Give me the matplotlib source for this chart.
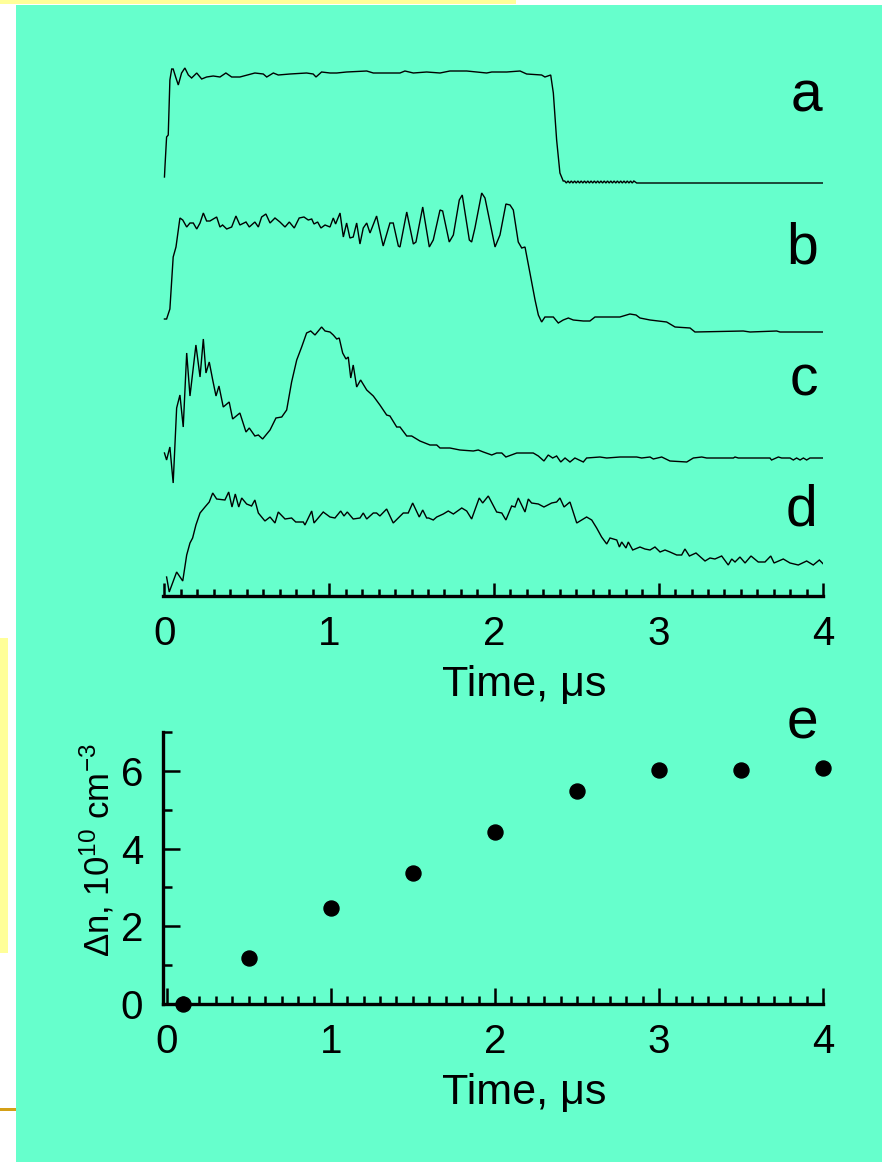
import numpy as np
import matplotlib
matplotlib.use("Agg")
import matplotlib.pyplot as plt
from matplotlib.patches import Rectangle
from matplotlib.ticker import MultipleLocator

plt.rcParams["font.family"] = ["Liberation Sans", "DejaVu Sans"]
plt.rcParams["mathtext.fontset"] = "custom"
plt.rcParams["mathtext.rm"] = "Liberation Sans"
plt.rcParams["mathtext.it"] = "Liberation Sans:italic"
plt.rcParams["mathtext.bf"] = "Liberation Sans:bold"

# ---------------- data ----------------
# oscillograms (time in us, signal in arbitrary units)
a_t = [0.0, 0.003, 0.013, 0.023, 0.033, 0.044, 0.053, 0.068, 0.084, 0.104, 0.124, 0.145,
       0.165, 0.196, 0.226, 0.256, 0.296, 0.337, 0.373, 0.408, 0.458, 0.549, 0.600, 0.621,
       0.661, 0.691, 0.762, 0.863, 0.903, 0.920, 0.954, 1.005, 1.046, 1.106, 1.228, 1.268,
       1.430, 1.460, 1.511, 1.592, 1.673, 1.733, 1.835, 1.896, 1.956, 1.987, 2.078, 2.159,
       2.199, 2.290, 2.310, 2.345, 2.361, 2.381, 2.401, 2.421,
       2.43, 2.44, 2.45, 2.46, 2.47, 2.48, 2.49, 2.50, 2.51, 2.52, 2.53, 2.54, 2.55, 2.56,
       2.57, 2.58, 2.59, 2.60, 2.61, 2.62, 2.63, 2.64, 2.65, 2.66, 2.67, 2.68, 2.69, 2.70,
       2.71, 2.72, 2.73, 2.74, 2.75, 2.76, 2.77, 2.78, 2.79, 2.80, 2.81, 2.82, 2.83, 2.84,
       2.85, 2.867, 4.0]
a_v = [6, 16, 46, 48, 103, 114, 114, 106, 98, 110, 115, 108,
       105, 110, 104, 106, 107, 106, 110, 106, 106, 110, 109, 106,
       110, 108, 109, 110, 109, 106, 111, 110, 110, 111, 112, 110,
       110, 112, 110, 111, 110, 112, 112, 111, 110, 111, 111, 112,
       109, 108, 106, 108, 90, 43, 10, 2,
       2, 0, 2, 0, 2, 0, 2, 0, 2, 0, 2, 0, 2, 0,
       2, 0, 2, 0, 2, 0, 2, 0, 2, 0, 2, 0, 2, 0,
       2, 0, 2, 0, 2, 0, 2, 0, 2, 0, 2, 0, 2, 0,
       2, 0, 0]

b_t = [0.0, 0.013, 0.033, 0.053, 0.070, 0.094, 0.111, 0.135, 0.155, 0.175, 0.196, 0.216,
       0.236, 0.256, 0.276, 0.317, 0.337, 0.353, 0.378, 0.408, 0.434, 0.458, 0.495, 0.515,
       0.549, 0.570, 0.590, 0.616, 0.641, 0.671, 0.701, 0.732, 0.758, 0.788, 0.818, 0.847,
       0.873, 0.894, 0.908, 0.930, 0.950, 0.975, 1.005, 1.025, 1.039, 1.066, 1.086, 1.106,
       1.126, 1.146, 1.167, 1.187, 1.207, 1.228, 1.248, 1.288, 1.328, 1.369, 1.389, 1.420,
       1.430, 1.471, 1.511, 1.527, 1.568, 1.608, 1.632, 1.673, 1.689, 1.729, 1.754, 1.790,
       1.808, 1.851, 1.865, 1.885, 1.926, 1.946, 2.007, 2.037, 2.073, 2.098, 2.118, 2.148,
       2.169, 2.189, 2.219, 2.250, 2.270, 2.290, 2.310, 2.361, 2.391, 2.421, 2.452, 2.482,
       2.543, 2.583, 2.614, 2.765, 2.826, 2.863, 2.887, 2.948, 3.049, 3.100, 3.191, 3.221,
       3.514, 3.555, 3.717, 3.737, 4.0]
b_v = [13, 13, 23, 75, 85, 114, 112, 105, 109, 109, 103, 109,
       119, 111, 111, 115, 105, 107, 103, 105, 116, 107, 110, 105,
       110, 105, 115, 118, 109, 114, 110, 105, 110, 104, 114, 115,
       112, 113, 108, 110, 104, 107, 105, 114, 108, 119, 95, 109,
       94, 95, 109, 88, 104, 109, 99, 116, 86, 109, 109, 86,
       85, 120, 88, 90, 125, 85, 92, 122, 121, 90, 97, 132,
       137, 92, 90, 104, 139, 134, 85, 97, 128, 127, 122, 90,
       84, 85, 59, 32, 17, 10, 15, 15, 9, 12, 14, 12,
       11, 11, 15, 15, 18, 17, 14, 12, 10, 5, 4, 0,
       1, 0, 1, 0, 0]

c_t = [0.0, 0.013, 0.033, 0.053, 0.074, 0.094, 0.114, 0.135, 0.155, 0.191, 0.216, 0.236,
       0.252, 0.272, 0.293, 0.313, 0.331, 0.357, 0.393, 0.414, 0.458, 0.495, 0.515, 0.549,
       0.570, 0.596, 0.641, 0.677, 0.712, 0.742, 0.772, 0.803, 0.833, 0.863, 0.888, 0.914,
       0.954, 0.975, 1.005, 1.025, 1.046, 1.061, 1.082, 1.102, 1.116, 1.131, 1.146, 1.167,
       1.191, 1.228, 1.268, 1.308, 1.349, 1.369, 1.410, 1.430, 1.471, 1.501, 1.551, 1.612,
       1.653, 1.673, 1.733, 1.794, 1.875, 1.905, 1.936, 1.987, 2.017, 2.048, 2.073, 2.139,
       2.239, 2.270, 2.304, 2.330, 2.357, 2.381, 2.406, 2.432, 2.462, 2.492, 2.543, 2.563,
       2.644, 2.685, 2.766, 2.867, 2.897, 2.948, 2.968, 3.019, 3.069, 3.171, 3.211, 3.262,
       3.292, 3.454, 3.464, 3.484, 3.676, 3.686, 3.727, 3.747, 3.798, 3.818, 3.838, 3.859,
       3.879, 3.899, 3.919, 4.0]
c_v = [6, -1, 12, -24, 51, 64, 32, 106, 63, 114, 82, 120,
       86, 97, 79, 63, 73, 52, 57, 40, 46, 27, 31, 23,
       24, 20, 29, 41, 42, 49, 77, 99, 112, 126, 128, 124,
       132, 128, 127, 124, 120, 121, 106, 100, 102, 81, 94, 72,
       79, 69, 63, 54, 44, 43, 32, 32, 23, 23, 18, 14,
       14, 11, 11, 9, 8, 9, 7, 4, 6, 6, 2, 6,
       6, 3, -2, 4, 1, 3, -3, 1, -3, 1, -3, 1,
       2, 1, 2, 2, 1, 2, 0, 2, -2, -3, 1, 2,
       1, 1, 2, 1, 1, -1, 2, 1, 1, -1, 1, -1,
       1, -1, 1, 1]

d_t = [0.013, 0.029, 0.074, 0.111, 0.135, 0.155, 0.171, 0.191, 0.216, 0.246, 0.272, 0.293,
       0.317, 0.367, 0.390, 0.410, 0.430, 0.451, 0.469, 0.499, 0.529, 0.549, 0.570, 0.610,
       0.641, 0.671, 0.691, 0.732, 0.772, 0.797, 0.843, 0.853, 0.894, 0.908, 0.964, 1.005,
       1.035, 1.070, 1.090, 1.110, 1.146, 1.187, 1.207, 1.228, 1.268, 1.288, 1.308, 1.349,
       1.389, 1.450, 1.480, 1.507, 1.547, 1.568, 1.592, 1.604, 1.632, 1.653, 1.693, 1.723,
       1.754, 1.805, 1.835, 1.865, 1.911, 1.932, 1.966, 2.017, 2.048, 2.073, 2.108, 2.128,
       2.148, 2.189, 2.209, 2.229, 2.270, 2.304, 2.351, 2.381, 2.401, 2.426, 2.462, 2.503,
       2.533, 2.563, 2.594, 2.624, 2.654, 2.685, 2.705, 2.746, 2.762, 2.776, 2.802, 2.816,
       2.843, 2.887, 2.917, 2.948, 2.978, 3.009, 3.039, 3.069, 3.110, 3.140, 3.160, 3.187,
       3.227, 3.282, 3.312, 3.342, 3.383, 3.423, 3.444, 3.464, 3.494, 3.525, 3.561, 3.605,
       3.646, 3.681, 3.701, 3.757, 3.798, 3.848, 3.899, 3.939, 3.976, 4.0]
d_v = [19, 4, 24, 15, 41, 53, 58, 71, 83, 89, 94, 103,
       97, 96, 104, 89, 102, 89, 98, 92, 90, 96, 83, 75,
       79, 73, 84, 77, 78, 74, 74, 71, 85, 73, 84, 79,
       78, 85, 80, 84, 77, 78, 83, 77, 83, 83, 80, 87,
       73, 83, 83, 93, 79, 86, 78, 78, 76, 79, 82, 85,
       82, 88, 85, 77, 98, 93, 100, 84, 83, 76, 90, 89,
       98, 84, 97, 93, 92, 89, 93, 94, 98, 89, 94, 73,
       76, 79, 76, 68, 59, 52, 58, 56, 49, 54, 48, 54,
       46, 49, 47, 46, 49, 44, 46, 44, 41, 41, 47, 40,
       43, 35, 38, 37, 40, 31, 37, 34, 39, 33, 40, 34,
       34, 40, 33, 37, 33, 31, 35, 31, 36, 32]

trace_labels = ["a", "b", "c", "d"]
trace_offsets = [413, 264, 137, 0]

# electron density increment (panel e)
e_time = [0.1, 0.5, 1.0, 1.5, 2.0, 2.5, 3.0, 3.5, 4.0]
e_dn = [0.0, 1.19, 2.47, 3.38, 4.42, 5.48, 6.01, 6.01, 6.07]

# ---------------- figure ----------------
W, H = 882, 1162
BG = "#66FFCC"
fig = plt.figure(figsize=(W / 100, H / 100), dpi=100, facecolor=BG)


def axes_px(left, top, right, bottom):
    return fig.add_axes([left / W, 1 - bottom / H, (right - left) / W, (bottom - top) / H])


# slide decorations around the figure
for (x0, y0, x1, y1, col) in [(0, 0, 16, H, "white"), (0, 0, W, 4.5, "white"),
                              (0, 0, 516, 3.5, "#FFFF99"), (0, 638, 8, 953, "#FFFF99"),
                              (0, 1107.5, 16, 1110.5, "#D4A017")]:
    fig.patches.append(Rectangle((x0 / W, 1 - y1 / H), (x1 - x0) / W, (y1 - y0) / H,
                                 transform=fig.transFigure, facecolor=col,
                                 edgecolor="none", zorder=0))

SPINE_LW = 2.4
TICK_FS = 29
LABEL_FS = 31
LETTER_FS = 41

# ---- stacked oscillograms ----
ax1 = axes_px(163.3, 40, 823.3, 596)
ax1.set_facecolor("none")
traces = [(a_t, a_v), (b_t, b_v), (c_t, c_v), (d_t, d_v)]
for (t, v), off in zip(traces, trace_offsets):
    ax1.plot(t, np.asarray(v, dtype=float) + off, color="black", lw=1.0,
             solid_joinstyle="miter")
ax1.set_xlim(-0.007, 4.0)
ax1.set_ylim(0, 556)
for s in ["left", "right", "top"]:
    ax1.spines[s].set_visible(False)
ax1.spines["bottom"].set_linewidth(SPINE_LW)
ax1.set_yticks([])
ax1.xaxis.set_major_locator(MultipleLocator(1))
ax1.xaxis.set_minor_locator(MultipleLocator(0.1))
ax1.tick_params(axis="x", which="major", direction="in", length=9.5, width=1.8,
                labelsize=TICK_FS, pad=13.5)
ax1.tick_params(axis="x", which="minor", direction="in", length=5, width=1.8)
ax1.set_xlabel("Time, μs", fontsize=LABEL_FS)
ax1.xaxis.set_label_coords(0.5465, -0.124)

letter_pos = [(3.895, 484), (3.87, 333), (3.885, 201), (3.87, 71)]
for lab, (lx, ly) in zip(trace_labels, letter_pos):
    ax1.text(lx, ly, lab, fontsize=LETTER_FS, ha="center", va="baseline")

# ---- density increment ----
ax2 = axes_px(163.3, 732, 823.3, 1004)
ax2.set_facecolor("none")
ax2.plot(e_time, e_dn, "o", color="black", markersize=10.8, clip_on=False, zorder=5)
ax2.set_xlim(-0.02, 4.0)
ax2.set_ylim(0, 7)
for s in ["right", "top"]:
    ax2.spines[s].set_visible(False)
for s in ["left", "bottom"]:
    ax2.spines[s].set_linewidth(SPINE_LW)
ax2.xaxis.set_major_locator(MultipleLocator(1))
ax2.xaxis.set_minor_locator(MultipleLocator(0.1))
ax2.yaxis.set_major_locator(MultipleLocator(2))
ax2.yaxis.set_minor_locator(MultipleLocator(1))
ax2.tick_params(axis="x", which="major", direction="in", length=11.5, width=1.8,
                labelsize=TICK_FS, pad=13.5)
ax2.tick_params(axis="x", which="minor", direction="in", length=5.8, width=1.8)
ax2.tick_params(axis="y", which="major", direction="in", length=12.5, width=1.8,
                labelsize=TICK_FS, pad=14.4)
ax2.tick_params(axis="y", which="minor", direction="in", length=6.5, width=1.8)
ax2.set_xlabel("Time, μs", fontsize=LABEL_FS)
ax2.xaxis.set_label_coords(0.5465, -0.253)
ax2.text(-0.100, 0.566, r"Δn, 10$^{10}$ cm$^{-3}$", transform=ax2.transAxes,
         rotation=90, fontsize=25, ha="center", va="center")
ax2.text(3.87, 6.82, "e", fontsize=LETTER_FS, ha="center", va="baseline")

fig.savefig("out.png", dpi=100, facecolor=BG)
